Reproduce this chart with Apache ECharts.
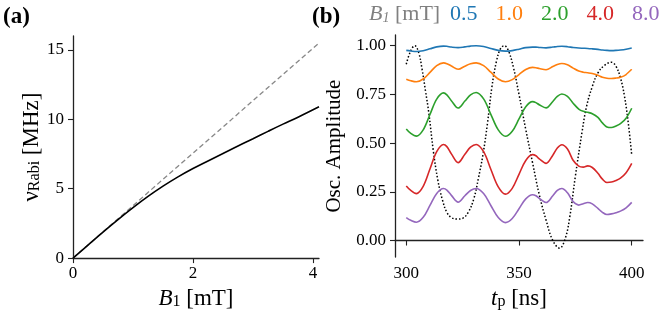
<!DOCTYPE html>
<html><head><meta charset="utf-8">
<script src="https://cdn.jsdelivr.net/npm/echarts@6/dist/echarts.min.js"></script>
<style>html,body{margin:0;padding:0;background:#fff}#c{width:670px;height:315px}</style>
</head><body><div id="c"></div>
<script>
// Panel (a)
const bField = [0, 0.25, 0.5, 0.75, 1.0, 1.25, 1.5, 1.75, 2.0, 2.25, 2.5, 2.75, 3.0, 3.25, 3.5, 3.75, 4.1];
const rabiFreq = [0, 0.94, 1.87, 2.77, 3.63, 4.44, 5.18, 5.85, 6.45, 7.0, 7.54, 8.08, 8.6, 9.13, 9.65, 10.15, 10.9];
const linearB = [0, 4.1];
const linearFreq = [0, 15.5];
const aXTicks = [0, 2, 4];
const aYTicks = [0, 5, 10, 15];

// Panel (b)
const tPulse = [300, 302, 304.5, 307.5, 310.5, 313.5, 316.5, 318, 320, 323, 326, 328.5, 331, 334.3, 337.5, 340.8, 344, 347, 350, 353, 356, 357.5, 359, 362, 365, 367, 369, 371.5, 374, 376.5, 378.5, 380.5, 382.5, 385, 387, 389, 391, 393, 395, 397.5, 400];
const amp05 = [0.976, 0.973, 0.970, 0.974, 0.984, 0.994, 0.998, 0.997, 0.993, 0.990, 0.994, 0.998, 1.000, 0.996, 0.986, 0.976, 0.972, 0.975, 0.982, 0.990, 0.993, 0.993, 0.991, 0.989, 0.993, 0.996, 0.997, 0.995, 0.991, 0.988, 0.987, 0.986, 0.984, 0.981, 0.978, 0.976, 0.975, 0.976, 0.978, 0.982, 0.988];
const amp10 = [0.828, 0.820, 0.815, 0.829, 0.863, 0.898, 0.912, 0.908, 0.896, 0.879, 0.895, 0.907, 0.912, 0.898, 0.864, 0.829, 0.815, 0.826, 0.852, 0.878, 0.889, 0.887, 0.883, 0.877, 0.893, 0.904, 0.909, 0.902, 0.885, 0.870, 0.864, 0.861, 0.857, 0.848, 0.838, 0.833, 0.832, 0.834, 0.838, 0.852, 0.879];
const amp20 = [0.573, 0.550, 0.536, 0.568, 0.647, 0.726, 0.758, 0.748, 0.718, 0.680, 0.716, 0.748, 0.760, 0.727, 0.648, 0.568, 0.535, 0.561, 0.624, 0.687, 0.713, 0.708, 0.697, 0.681, 0.714, 0.740, 0.752, 0.740, 0.705, 0.675, 0.663, 0.658, 0.651, 0.632, 0.604, 0.583, 0.580, 0.588, 0.600, 0.628, 0.679];
const amp40 = [0.280, 0.257, 0.241, 0.278, 0.367, 0.456, 0.493, 0.482, 0.445, 0.400, 0.443, 0.479, 0.493, 0.456, 0.366, 0.275, 0.238, 0.268, 0.340, 0.411, 0.441, 0.435, 0.419, 0.396, 0.438, 0.475, 0.492, 0.470, 0.412, 0.382, 0.377, 0.383, 0.375, 0.345, 0.315, 0.298, 0.300, 0.308, 0.320, 0.348, 0.396];
const amp80 = [0.118, 0.104, 0.094, 0.119, 0.180, 0.242, 0.267, 0.259, 0.232, 0.197, 0.230, 0.257, 0.267, 0.241, 0.180, 0.118, 0.092, 0.113, 0.163, 0.214, 0.235, 0.230, 0.216, 0.195, 0.230, 0.257, 0.267, 0.245, 0.200, 0.182, 0.189, 0.195, 0.188, 0.165, 0.145, 0.134, 0.137, 0.143, 0.151, 0.168, 0.196];
const tDotted = [300, 302, 303.8, 305.5, 307, 308.5, 310, 312, 314, 316, 318, 320, 322.5, 325, 327.5, 330, 332, 334, 336, 338, 340, 341.8, 343.5, 345.3, 347.5, 350, 353, 356, 359, 362, 365, 368, 370.5, 372.5, 375, 378, 380, 382.5, 385, 388, 391, 393, 395, 396.8, 398.5, 400];
const ampDotted = [0.905, 0.975, 1.0, 0.965, 0.88, 0.77, 0.655, 0.46, 0.31, 0.21, 0.145, 0.118, 0.11, 0.114, 0.145, 0.216, 0.32, 0.44, 0.6, 0.79, 0.92, 0.985, 1.0, 0.975, 0.89, 0.75, 0.57, 0.40, 0.235, 0.105, 0.0, -0.039, 0.01, 0.12, 0.33, 0.56, 0.69, 0.79, 0.86, 0.9, 0.915, 0.895, 0.835, 0.74, 0.6, 0.437];
const bLegend = ['0.5', '1.0', '2.0', '4.0', '8.0'];
const bSeries = [amp05, amp10, amp20, amp40, amp80];
const bXTicks = [300, 350, 400];
const bYTicks = [0, 0.25, 0.5, 0.75, 1.0];

const colors = ['#1f77b4', '#ff7f0e', '#2ca02c', '#d62728', '#9467bd'];
const FONT = 'Liberation Serif';
const zip = (a, b) => a.map((v, i) => [v, b[i]]);

const axisLine = { show: true, lineStyle: { color: '#222', width: 1.3 } };
const axisTick = (vals) => ({ show: true, length: 5, lineStyle: { color: '#222', width: 1.1 }, customValues: vals });
const tickLabel = (vals, m, digits) => ({
  customValues: vals, margin: m, fontFamily: FONT, fontSize: 17, color: '#000',
  formatter: v => '{t|' + (digits ? v.toFixed(digits) : String(v)) + '}',
  rich: { t: { fontFamily: FONT, fontSize: 17, color: '#000' } }
});
const subRich = {
  n: { fontFamily: FONT, fontSize: 23, color: '#000' },
  i: { fontFamily: FONT, fontSize: 23, fontStyle: 'italic', color: '#000' },
  s: { fontFamily: FONT, fontSize: 16, color: '#000', verticalAlign: 'bottom', lineHeight: 13 }
};

const chart = echarts.init(document.getElementById('c'), null, { renderer: 'canvas' });
const series = [
  { type: 'line', xAxisIndex: 0, yAxisIndex: 0, data: zip(linearB, linearFreq), showSymbol: false, lineStyle: { color: '#888', width: 1.3, type: [5, 3] }, silent: true },
  { type: 'line', xAxisIndex: 0, yAxisIndex: 0, data: zip(bField, rabiFreq), showSymbol: false, smooth: 0.4, lineStyle: { color: '#000', width: 1.6 }, silent: true },
  { type: 'line', xAxisIndex: 1, yAxisIndex: 1, data: zip(tDotted, ampDotted), showSymbol: false, smooth: 0.4, lineStyle: { color: '#000', width: 1.5, type: [1.5, 2] }, silent: true, z: 1 }
];
bLegend.forEach((name, k) => {
  series.push({ name, type: 'line', xAxisIndex: 1, yAxisIndex: 1, data: zip(tPulse, bSeries[k]), showSymbol: false, smooth: 0.35, lineStyle: { color: colors[k], width: 1.6 }, itemStyle: { color: colors[k] }, silent: true, z: 3 });
});

chart.setOption({
  animation: false,
  backgroundColor: '#fff',
  textStyle: { fontFamily: FONT },
  grid: [
    { left: 73, top: 36, width: 246, height: 224 },
    { left: 395, top: 35, width: 248, height: 223 }
  ],
  legend: {
    left: 445, top: 3, padding: 0, icon: 'none', itemWidth: 0, itemHeight: 0, itemGap: 13,
    data: bLegend.map((n, k) => ({ name: n, textStyle: { color: colors[k] } })),
    textStyle: { fontFamily: FONT, fontSize: 22 }
  },
  graphic: [
    { type: 'text', left: 3, top: 6, style: { text: '(a)', font: 'bold 23px ' + FONT, fill: '#000' } },
    { type: 'text', left: 312, top: 6, style: { text: '(b)', font: 'bold 23px ' + FONT, fill: '#000' } },
    { type: 'text', left: 369, top: 3, style: {
      text: '{i|B}{s|1}{n| [mT]}',
      rich: {
        i: { fontFamily: FONT, fontSize: 22, fontStyle: 'italic', fill: '#808080' },
        s: { fontFamily: FONT, fontSize: 14, fontStyle: 'italic', fill: '#808080', verticalAlign: 'bottom', lineHeight: 13 },
        n: { fontFamily: FONT, fontSize: 22, fill: '#808080' }
      } } }
  ],
  xAxis: [
    { type: 'value', gridIndex: 0, min: 0, max: 4.1, splitLine: { show: false }, axisLine, axisTick: axisTick(aXTicks),
      axisLabel: tickLabel(aXTicks, 7),
      name: '{i|B}{s|1}{n| [mT]}', nameLocation: 'middle', nameGap: 27, nameTextStyle: { rich: subRich } },
    { type: 'value', gridIndex: 1, min: 295, max: 405, splitLine: { show: false }, axisLine, axisTick: axisTick(bXTicks),
      axisLabel: tickLabel(bXTicks, 8),
      name: '{i|t}{s|p}{n| [ns]}', nameLocation: 'middle', nameGap: 27, nameTextStyle: { rich: subRich } }
  ],
  yAxis: [
    { type: 'value', gridIndex: 0, min: 0, max: 16, splitLine: { show: false }, axisLine, axisTick: axisTick(aYTicks),
      axisLabel: tickLabel(aYTicks, 9),
      name: '{n|ν}{s|Rabi}{n| [MHz]}', nameLocation: 'middle', nameGap: 27, nameTextStyle: { rich: subRich } },
    { type: 'value', gridIndex: 1, min: -0.085, max: 1.055, splitLine: { show: false }, axisLine, axisTick: axisTick(bYTicks),
      axisLabel: tickLabel(bYTicks, 9, 2),
      name: 'Osc. Amplitude', nameLocation: 'middle', nameGap: 50, nameTextStyle: { fontFamily: FONT, fontSize: 21, color: '#000' } }
  ],
  series
});
</script></body></html>
